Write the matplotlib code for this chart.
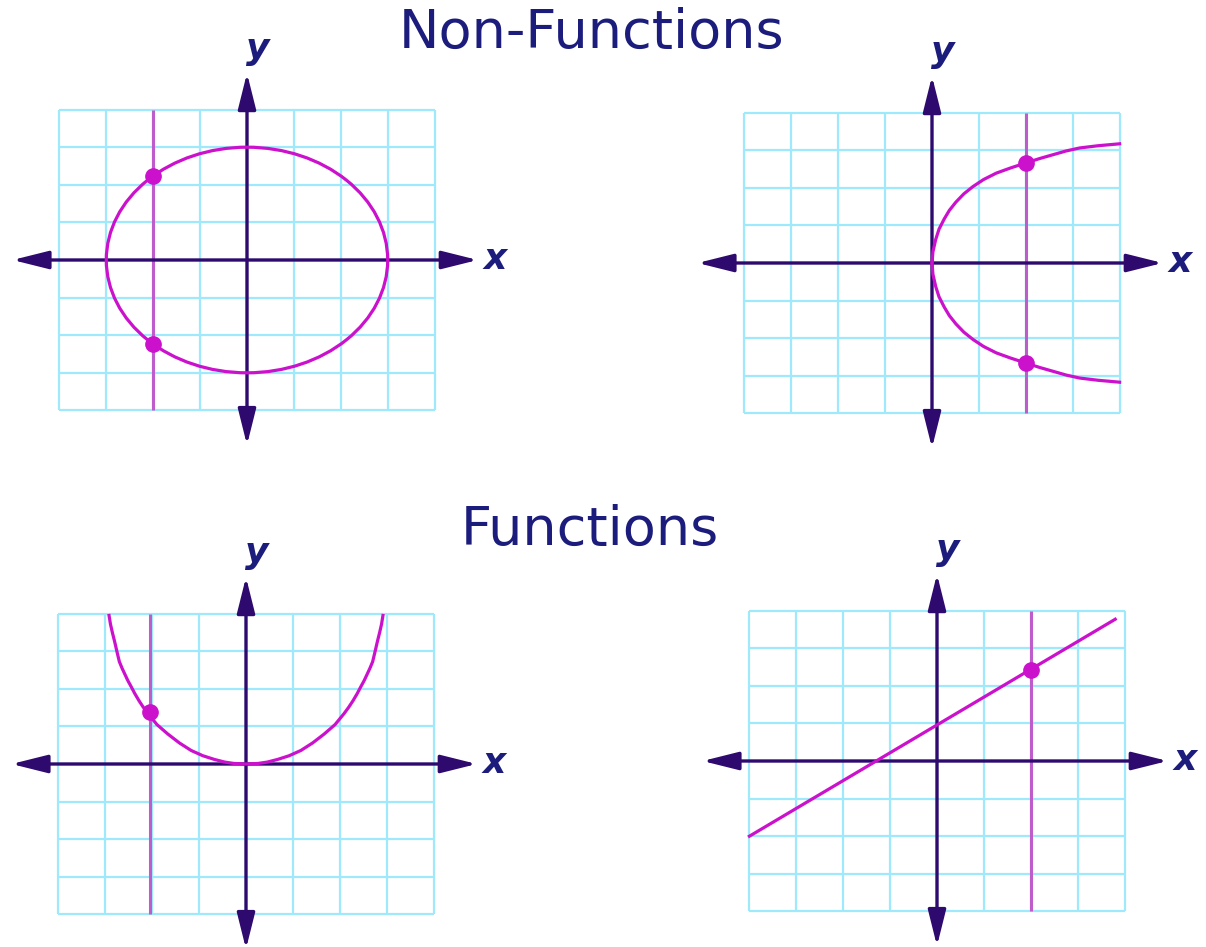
import numpy as np
import matplotlib
matplotlib.use("Agg")
import matplotlib.pyplot as plt
from matplotlib.patches import Ellipse

# ---------------- colours ----------------
AXIS = '#2e0a6e'
GRID = '#9eeafc'
CURVE = '#cc11cc'
VLINE = '#bf5ccc'
TEXT = '#1c1c7c'

W, H = 1206, 947
UX, UY = 46.9, 37.6   # pixel size of one grid unit

# ---------------- data ----------------
# top left: circle through (+-3, 0) and (0, +-3), vertical test line at x=-2
circle_r = 3
tl_line_x = -2
tl_pts_x = [-2, -2]
tl_pts_y = [2.236, -2.236]

# top right: sideways curve (upper half, lower half is its mirror)
tr_x = [0, 0.02, 0.08, 0.15, 0.26, 0.37, 0.51, 0.68, 0.87, 1.1, 1.37, 1.68,
        2.0, 2.3, 2.58, 2.86, 3.15, 3.55, 4.0]
tr_y = [0, 0.3, 0.63, 0.9, 1.17, 1.4, 1.62, 1.84, 2.03, 2.22, 2.39, 2.53,
        2.66, 2.78, 2.88, 2.98, 3.06, 3.12, 3.17]
tr_line_x = 2
tr_pts_x = [2, 2]
tr_pts_y = [2.66, -2.66]

# bottom left: U shaped curve
bl_x = [-2.92, -2.89, -2.85, -2.80, -2.75, -2.70, -2.64, -2.58, -2.52, -2.45,
        -2.37, -2.28, -2.19, -2.09, -1.90, -1.67, -1.42,
        -1.17, -0.92, -0.67, -0.45, -0.26, 0,
        0.26, 0.45, 0.67, 0.92, 1.17, 1.42, 1.67, 1.90, 2.09, 2.19, 2.28, 2.37,
        2.45, 2.52, 2.58, 2.64, 2.70, 2.75, 2.80, 2.85, 2.89, 2.92]
bl_y = [3.95, 3.72, 3.50, 3.25, 2.98, 2.72, 2.54, 2.38, 2.22, 2.06,
        1.87, 1.68, 1.51, 1.34, 1.05, 0.80, 0.56,
        0.36, 0.22, 0.12, 0.05, 0.015, 0,
        0.015, 0.05, 0.12, 0.22, 0.36, 0.56, 0.80, 1.05, 1.34, 1.51, 1.68, 1.87,
        2.06, 2.22, 2.38, 2.54, 2.72, 2.98, 3.25, 3.50, 3.72, 3.95]
bl_line_x = -2.05
bl_pts_x = [-2.05]
bl_pts_y = [1.38]

# bottom right: straight line
br_x = [-4.0, 3.8]
br_y = [-2.0, 3.77]
br_line_x = 2
br_pts_x = [2]
br_pts_y = [2.42]

fig = plt.figure(figsize=(W / 100, H / 100), dpi=100)


def panel(ox, oy):
    # axes whose data origin sits at pixel (ox, oy), 6 units each way
    ax = fig.add_axes([(ox - 6 * UX) / W, (H - (oy + 6 * UY)) / H,
                       12 * UX / W, 12 * UY / H])
    ax.set_xlim(-6, 6)
    ax.set_ylim(-6, 6)
    ax.axis('off')
    ticks = np.arange(-4, 5)
    ax.vlines(ticks, -4, 4, color=GRID, lw=1.6, zorder=1)
    ax.hlines(ticks, -4, 4, color=GRID, lw=1.6, zorder=1)
    astyle = '<|-|>,head_length=2.2,head_width=0.55'
    ax.annotate('', xy=(4.92, 0), xytext=(-5.0, 0),
                arrowprops=dict(arrowstyle=astyle, color=AXIS, lw=2.4,
                                shrinkA=0, shrinkB=0), zorder=3)
    ax.annotate('', xy=(0, 4.97), xytext=(0, -4.92),
                arrowprops=dict(arrowstyle=astyle, color=AXIS, lw=2.4,
                                shrinkA=0, shrinkB=0), zorder=3)
    ax.text(5.28, 0.02, 'x', color=TEXT, fontsize=26, style='italic',
            fontweight='bold', ha='center', va='center')
    ax.text(0.22, 5.6, 'y', color=TEXT, fontsize=26, style='italic',
            fontweight='bold', ha='center', va='center')
    return ax


def test_line(ax, x, px, py):
    ax.vlines(x, -4, 4, color=VLINE, lw=2.2, zorder=2)
    ax.plot(px, py, 'o', color=CURVE, ms=11, zorder=5)


# top left
ax1 = panel(247, 260)
ax1.add_patch(Ellipse((0, 0), 2 * circle_r, 2 * circle_r, fill=False,
                      edgecolor=CURVE, lw=2.3, zorder=4))
test_line(ax1, tl_line_x, tl_pts_x, tl_pts_y)

# top right
ax2 = panel(932, 263)
ax2.plot(tr_x, tr_y, color=CURVE, lw=2.3, zorder=4)
ax2.plot(tr_x, [-v for v in tr_y], color=CURVE, lw=2.3, zorder=4)
test_line(ax2, tr_line_x, tr_pts_x, tr_pts_y)

# bottom left
ax3 = panel(246, 764)
ax3.plot(bl_x, bl_y, color=CURVE, lw=2.3, zorder=4)
test_line(ax3, bl_line_x, bl_pts_x, bl_pts_y)

# bottom right
ax4 = panel(937, 761)
ax4.plot(br_x, br_y, color=CURVE, lw=2.3, zorder=4)
test_line(ax4, br_line_x, br_pts_x, br_pts_y)

fig.text(592 / W, 1 - 33 / H, 'Non-Functions', color=TEXT, fontsize=39,
         ha='center', va='center')
fig.text(590 / W, 1 - 530 / H, 'Functions', color=TEXT, fontsize=39,
         ha='center', va='center')

fig.savefig('out.png', dpi=100, facecolor='white')
